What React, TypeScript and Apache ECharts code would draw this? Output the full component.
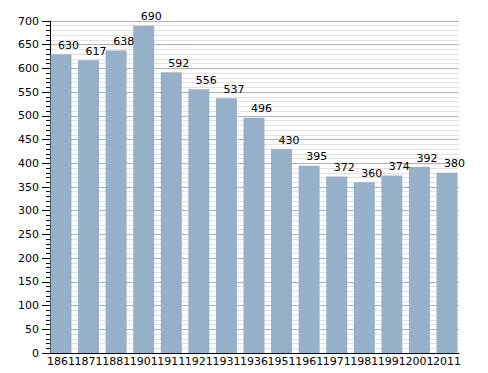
import React, { useEffect, useRef } from "react";
import * as echarts from "echarts";

const categories = ["1861", "1871", "1881", "1901", "1911", "1921", "1931", "1936", "1951", "1961", "1971", "1981", "1991", "2001", "2011"];
const values = [630, 617, 638, 690, 592, 556, 537, 496, 430, 395, 372, 360, 374, 392, 380];

export default function App() {
  const ref = useRef<HTMLDivElement>(null);
  useEffect(() => {
    if (!ref.current) return;
    const chart = echarts.init(ref.current, null, { renderer: "svg" });
    const font = "DejaVu Sans";
    chart.setOption({
      animation: false,
      grid: [
        { left: 50, right: 29, top: 21, bottom: 20 },
        { left: 47.2, right: 27.2, top: 21, bottom: 20 },
      ],
      xAxis: [
        {
          gridIndex: 0,
          type: "value",
          min: 0,
          max: 1,
          axisLine: { show: true, onZero: false, lineStyle: { color: "#000", width: 1 } },
          axisTick: { show: false },
          axisLabel: { show: false },
          splitLine: { show: false },
        },
        {
          gridIndex: 1,
          type: "category",
          data: categories,
          axisLine: { show: false },
          axisTick: { show: false },
          axisLabel: { color: "#000", fontSize: 11, fontFamily: font, margin: 3, interval: 0 },
        },
      ],
      yAxis: [
        {
          gridIndex: 0,
          type: "value",
          min: 0,
          max: 700,
          interval: 50,
          axisLine: { show: true, lineStyle: { color: "#000", width: 1 } },
          axisTick: { show: true, length: 8, lineStyle: { color: "#000" } },
          minorTick: { show: true, splitNumber: 5, length: 4, lineStyle: { color: "#000" } },
          axisLabel: { color: "#000", fontSize: 11, fontFamily: font, margin: 11 },
          splitLine: { show: true, lineStyle: { color: "#b0b0b0", width: 1 } },
          minorSplitLine: { show: true, lineStyle: { color: "#e2e2e2", width: 1 } },
        },
        {
          gridIndex: 1,
          type: "value",
          min: 0,
          max: 700,
          show: false,
        },
      ],
      series: [
        {
          type: "bar",
          xAxisIndex: 1,
          yAxisIndex: 1,
          data: values,
          barWidth: 21,
          itemStyle: { color: "#97b0c9" },
          z: 3,
          label: {
            show: true,
            position: "top",
            distance: 3.5,
            offset: [7.5, 0],
            color: "#000",
            fontSize: 11,
            fontFamily: font,
          },
        },
      ],
    });
    return () => chart.dispose();
  }, []);
  return <div ref={ref} style={{ width: 488, height: 373, position: "absolute", left: 0, top: 0, background: "#fff" }} />;
}
